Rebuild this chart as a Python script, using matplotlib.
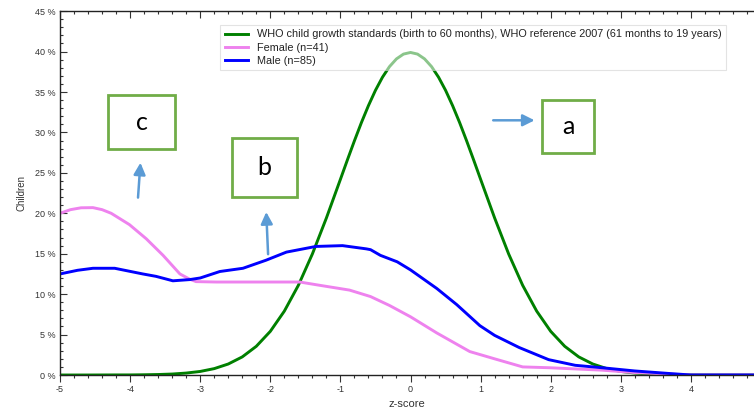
import matplotlib
matplotlib.use("Agg")
import matplotlib.pyplot as plt
from matplotlib.patches import Rectangle
from matplotlib.ticker import MultipleLocator, FuncFormatter

# WHO reference curve (finer steps near the peak)
who_z = [-5.0, -4.6, -4.2, -4.0, -3.8, -3.6, -3.4, -3.2, -3.0, -2.8,
         -2.6, -2.4, -2.2, -2.0, -1.8, -1.6, -1.4, -1.2, -1.0, -0.9,
         -0.8, -0.7, -0.6, -0.5, -0.4, -0.3, -0.2, -0.1, 0.0, 0.1,
         0.2, 0.3, 0.4, 0.5, 0.6, 0.7, 0.8, 0.9, 1.0, 1.2,
         1.4, 1.6, 1.8, 2.0, 2.2, 2.4, 2.6, 2.8, 3.0, 3.2,
         3.4, 3.6, 3.8, 4.0, 4.4, 4.9]
who_pct = [0.0, 0.0, 0.01, 0.01, 0.03, 0.06, 0.12, 0.24, 0.44, 0.79,
           1.36, 2.24, 3.55, 5.40, 7.90, 11.09, 14.97, 19.42, 24.20, 26.61,
           28.97, 31.23, 33.32, 35.21, 36.83, 38.14, 39.10, 39.69, 39.89, 39.69,
           39.10, 38.14, 36.83, 35.21, 33.32, 31.23, 28.97, 26.61, 24.20, 19.42,
           14.97, 11.09, 7.90, 5.40, 3.55, 2.24, 1.36, 0.79, 0.44, 0.24,
           0.12, 0.06, 0.03, 0.01, 0.0, 0.0]

female_z = [-5.0, -4.85, -4.7, -4.53, -4.4, -4.27, -4.01, -3.77, -3.53, -3.29,
            -3.15, -3.06, -2.77, -2.2, -1.58, -1.3, -0.87, -0.57, -0.3, 0.0,
            0.375, 0.845, 1.2, 1.6, 1.98, 2.73, 3.2, 4.0, 4.9]
female_pct = [20.0, 20.45, 20.68, 20.7, 20.45, 20.0, 18.6, 16.85, 14.8, 12.5,
              11.85, 11.55, 11.5, 11.5, 11.5, 11.1, 10.5, 9.7, 8.6, 7.2,
              5.2, 2.9, 2.0, 1.0, 0.9, 0.6, 0.3, 0.0, 0.0]

male_z = [-5.0, -4.75, -4.53, -4.22, -3.82, -3.63, -3.39, -3.15, -3.0, -2.72,
          -2.39, -2.06, -1.77, -1.35, -0.97, -0.63, -0.57, -0.43, -0.19, 0.0,
          0.375, 0.66, 0.99, 1.2, 1.55, 1.97, 2.35, 2.73, 3.2, 3.67,
          4.0, 4.9]
male_pct = [12.5, 12.95, 13.2, 13.2, 12.5, 12.2, 11.65, 11.8, 12.0, 12.8,
            13.2, 14.2, 15.2, 15.9, 16.0, 15.6, 15.5, 14.8, 14.0, 13.0,
            10.7, 8.7, 6.1, 4.9, 3.4, 1.9, 1.2, 0.9, 0.5, 0.2,
            0.0, 0.0]

who_label = "WHO child growth standards (birth to 60 months), WHO reference 2007 (61 months to 19 years)"
female_label = "Female (n=41)"
male_label = "Male (n=85)"

plt.rcParams['font.family'] = ['Liberation Sans', 'DejaVu Sans']
plt.rcParams['axes.unicode_minus'] = False

fig = plt.figure(figsize=(7.54, 4.13), dpi=100)
ax = fig.add_axes([0.0796, 0.092, 0.9204, 0.881])

ax.plot(who_z, who_pct, color='green', lw=2.1, label=who_label)
ax.plot(female_z, female_pct, color='violet', lw=2.1, label=female_label)
ax.plot(male_z, male_pct, color='blue', lw=2.1, label=male_label)

ax.set_xlim(-5, 4.9)
ax.set_ylim(0, 45)

ax.xaxis.set_major_locator(MultipleLocator(1))
ax.xaxis.set_minor_locator(MultipleLocator(0.2))
ax.yaxis.set_major_locator(MultipleLocator(5))
ax.yaxis.set_minor_locator(MultipleLocator(1))
ax.yaxis.set_major_formatter(FuncFormatter(lambda v, p: "%d %%" % v))

ax.tick_params(axis='x', which='both', direction='out', top=True, labelsize=6.5,
               colors='#333333', width=0.8, pad=2)
ax.tick_params(axis='y', which='both', direction='in', labelsize=6.5,
               colors='#333333', width=0.8)
ax.tick_params(which='major', length=5)
ax.tick_params(which='minor', length=2.5)
# top ticks point into the plot
for t in ax.xaxis.get_major_ticks() + ax.xaxis.get_minor_ticks():
    t.tick2line.set_marker(3)

ax.spines['right'].set_visible(False)
for s in ['left', 'bottom', 'top']:
    ax.spines[s].set_linewidth(1.0)
    ax.spines[s].set_color('#222222')

ax.set_xlabel('z-score', fontsize=8, color='#333333', labelpad=4)
ax.set_ylabel('Children', fontsize=7, color='#333333', labelpad=6)

leg = ax.legend(loc='upper left', bbox_to_anchor=(0.231, 0.962), fontsize=7.8,
                frameon=True, fancybox=False, framealpha=0.55,
                edgecolor='#cccccc', handlelength=2.2, borderpad=0.4,
                labelspacing=0.3, handletextpad=0.8, borderaxespad=0)
leg.get_frame().set_linewidth(0.8)
for txt in leg.get_texts():
    txt.set_color('#222222')

# annotation boxes (drawn over the chart as in the original)
box_green = '#70AD47'
arrow_blue = '#5B9BD5'
boxes = [("c", -4.31, 27.9, 0.95, 6.7),
         ("b", -2.55, 22.0, 0.93, 7.3),
         ("a", 1.88, 27.4, 0.74, 6.6)]
for letter, x0, y0, w, h in boxes:
    ax.add_patch(Rectangle((x0, y0), w, h, facecolor='white', edgecolor=box_green,
                           lw=2.0, zorder=6))
    ax.text(x0 + w / 2, y0 + h / 2, letter, ha='center', va='center',
            fontsize=18, fontfamily='Lato', zorder=7)

arrows = [((-3.89, 21.6), (-3.85, 26.6)),
          ((-2.03, 14.6), (-2.06, 20.5)),
          ((1.14, 31.5), (1.81, 31.5))]
for start, end in arrows:
    ax.annotate('', xy=end, xytext=start, zorder=7,
                arrowprops=dict(arrowstyle='-|>,head_width=0.35,head_length=0.7',
                                color=arrow_blue, lw=1.8))

fig.savefig('out.png', dpi=100)
